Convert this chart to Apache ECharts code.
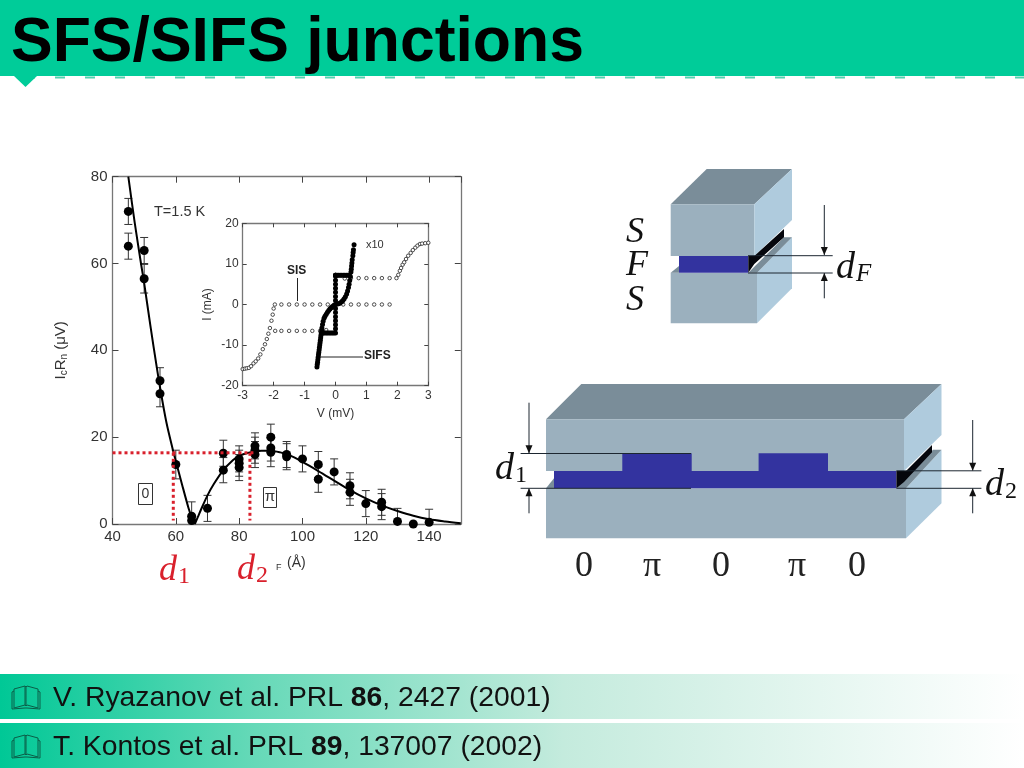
<!DOCTYPE html>
<html><head><meta charset="utf-8">
<style>html,body{margin:0;padding:0;background:#fff}#c{width:1024px;height:768px}</style>
<script src="https://cdn.jsdelivr.net/npm/echarts@6/dist/echarts.min.js"></script>
</head><body><div id="c"></div>
<script>
// ---- main panel data: thickness (Å), IcRn (µV), error (µV)
var pointX   = [45,45,50,50,55,55,60,65,65,70,75,75,80,80,80,85,85,85,90,90,90,95,95,100,105,105,110,115,115,120,125,125,130,135,140];
var pointY   = [72,64,63,56.5,33,30,13.7,1.8,0.8,3.6,16.3,12.4,15,14,13,18,17,16,20,17.5,16.5,16,15.5,15,13.7,10.3,12,8.8,7.3,4.7,5,4,0.6,0,0.4];
var pointErr = [3,3,3,3.3,3,3,3.3,3.3,0,3,3,2.9,3,3,3,3,3,3,3,3,3.3,3,3,3,3,3,3,3,3,3,3,3,3,0,3];
var curve0X = [45,47,49,50,52,54,55,57,59,60,62,64,65,66];
var curve0Y = [80,69.5,60,55.5,45.5,36,31.5,23.5,17.3,14.5,9,3.7,1.6,0];
var curve1X = [66,67,68,70,72,75,78,80,83,87,90,93,96,100,105,110,115,120,125,130,135,140,145,150];
var curve1Y = [0,1.7,3.4,6.6,9.2,12.4,14.7,15.7,16.4,16.9,16.9,16.5,15.8,14.3,12.2,10,7.8,5.9,4.3,3,1.9,1.1,0.6,0.2];
var dottedH = [[40,16.4],[84.5,16.4]];
var dottedA = [[59.2,16.4],[59.2,0.8]];
var dottedB = [[83.4,16.4],[83.4,0.8]];
// ---- inset data: V (mV), I (mA)
var sisV = [-3,-2.93,-2.87,-2.8,-2.73,-2.65,-2.58,-2.5,-2.43,-2.35,-2.28,-2.22,-2.17,-2.12,-2.07,-2.03,-2,-1.96,-1.75,-1.5,-1.25,-1,-0.75,-0.5,-0.25,0,0.25,0.5,0.75,1,1.25,1.5,1.75,-1.95,-1.75,-1.5,-1.25,-1,-0.75,-0.5,-0.3,0.3,0.5,0.75,1,1.25,1.5,1.75,1.97,2.03,2.08,2.12,2.17,2.22,2.28,2.35,2.43,2.5,2.58,2.65,2.73,2.8,2.9,3];
var sisI = [-15.9,-15.8,-15.7,-15.6,-15.2,-14.5,-14,-13.3,-12.3,-11,-9.8,-8.5,-7.2,-5.8,-4,-2.5,-1,0,0,0,0,0,0,0,0,0,0,0,0,0,0,0,0,-6.5,-6.5,-6.5,-6.5,-6.5,-6.5,-6.5,-6.3,6.4,6.5,6.5,6.5,6.5,6.5,6.5,6.5,7.3,8.3,9,9.8,10.4,11.2,12,12.7,13.4,14,14.5,14.9,15,15.1,15.2];
var sifsV = [-0.6,-0.59,-0.58,-0.57,-0.56,-0.55,-0.54,-0.53,-0.52,-0.51,-0.5,-0.49,-0.48,-0.47,-0.46,-0.45,-0.44,-0.42,-0.4,-0.37,-0.34,-0.3,-0.26,-0.22,-0.18,-0.14,-0.1,-0.05,0,0.05,0.1,0.15,0.2,0.24,0.28,0.32,0.36,0.39,0.42,0.44,0.46,0.48,0.5,0.51,0.52,0.53,0.54,0.56,0.57,0.58,0.6,0,0,0,0,0,0,0,0,0,0,0,0,0,0,0,0,0,0.05,0.1,0.15,0.2,0.25,0.3,-0.05,-0.1,-0.15,-0.2,-0.25,-0.3,-0.35,-0.4,0.35,0.4,0.45];
var sifsI = [-15.4,-14.8,-14.2,-13.6,-13,-12.4,-11.8,-11.2,-10.6,-10,-9.4,-8.8,-8.2,-7.6,-7,-6.4,-5.8,-4.9,-4.1,-3.4,-2.9,-2.4,-1.9,-1.5,-1.1,-0.8,-0.5,-0.2,0,0.1,0.2,0.4,0.7,1,1.4,1.9,2.6,3.3,4.2,5,5.9,6.9,8,8.7,9.5,10.2,11,12,12.8,13.5,14.7,-7,-6,-5,-4,-3,-2,-1,1,2,3,4,5,6,7,7.2,7.2,7.2,7.2,7.2,7.2,7.2,7.2,7.2,-7,-7,-7,-7,-7,-7,-7,-7,7.2,7.2,7.2];

function zip(a,b){return a.map(function(v,i){return [v,b[i]];});}
function zip3(a,b,c){return a.map(function(v,i){return [v,b[i],c[i]];});}

var HEAD='#00CC99', INK='#333', AX='#777';
var SANS='"Liberation Sans",Arial,sans-serif', SERIF='"Liberation Serif",serif';
var TOPF='#7A8D99', FRONT='#9BB0BE', SIDE='#AFCBDD', BLUE='#33339F', DARK='#1c2630';

function errItem(params, api){
  var x=api.value(0), y=api.value(1), e=api.value(2);
  if(!e) return {type:'group',children:[]};
  var lo=api.coord([x,Math.max(0,y-e)]), hi=api.coord([x,y+e]);
  var st={stroke:'#333',lineWidth:1,fill:null};
  var kids=[
    {type:'line',shape:{x1:hi[0],y1:hi[1],x2:lo[0],y2:lo[1]},style:st},
    {type:'line',shape:{x1:hi[0]-4,y1:hi[1],x2:hi[0]+4,y2:hi[1]},style:st}];
  if(y-e>0) kids.push({type:'line',shape:{x1:lo[0]-4,y1:lo[1],x2:lo[0]+4,y2:lo[1]},style:st});
  return {type:'group',children:kids};
}
function axisBase(extra){
  var o={type:'value',axisLine:{show:true,onZero:false,lineStyle:{color:AX,width:1.3}},
    axisTick:{show:true,inside:true,length:6,lineStyle:{color:'#444',width:1}},splitLine:{show:false},
    axisLabel:{show:true,color:INK,fontFamily:SANS,fontSize:15,margin:5,showMaxLabel:true}};
  for(var k in extra) o[k]=extra[k];
  return o;
}
function poly(pts,fill,z){return {type:'polygon',z:z||1,silent:true,shape:{points:pts},style:{fill:fill}};}
function seg(x1,y1,x2,y2,w,col,z){return {type:'line',z:z||5,silent:true,shape:{x1:x1,y1:y1,x2:x2,y2:y2},style:{stroke:col||DARK,lineWidth:w||1}};}
function txt(x,y,t,opt){
  opt=opt||{};
  var st={text:t,x:x,y:y,fill:opt.fill||'#111',font:(opt.style||'')+' '+(opt.weight||'')+' '+(opt.size||14)+'px '+(opt.family||SANS),
    align:opt.align||'left',verticalAlign:'middle'};
  if(opt.rich) st.rich=opt.rich;
  return {type:'text',z:opt.z||10,silent:true,rotation:opt.rotation||0,style:st};
}
function headDown(x,y){return poly([[x-3.5,y-8],[x+3.5,y-8],[x,y]],'#111',6);}
function headUp(x,y){return poly([[x-3.5,y+8],[x+3.5,y+8],[x,y]],'#111',6);}
function pline(pts,x0,y0,col){return {type:'polyline',z:6,silent:true,x:x0,y:y0,shape:{points:pts},style:{fill:null,stroke:col,lineWidth:1}};}

// slide chrome
var g=[];
g.push({type:'rect',z:0,silent:true,shape:{x:0,y:0,width:1024,height:76},style:{fill:HEAD}});
g.push(poly([[14,76],[37,76],[25.5,87]],HEAD,0));
g.push({type:'line',z:0,silent:true,shape:{x1:25,y1:77.5,x2:1024,y2:77.5},style:{stroke:'#4fd3b0',lineWidth:2,lineDash:[10,20]}});
g.push(txt(11,44,'SFS/SIFS junctions',{size:62.5,weight:'bold',fill:'#000'}));
var fade={type:'linear',x:0,y:0,x2:1,y2:0,colorStops:[{offset:0,color:'#00C896'},{offset:0.25,color:'#66D9B8'},{offset:0.55,color:'#C4EBDD'},{offset:1,color:'#ffffff'}]};
g.push({type:'rect',z:0,silent:true,shape:{x:0,y:674,width:1024,height:45},style:{fill:fade}});
g.push({type:'rect',z:0,silent:true,shape:{x:0,y:723,width:1024,height:45},style:{fill:fade}});
[685,734].forEach(function(y){
  var c='#0B5E48';
  g.push(pline([[14,20],[3,23],[3,4],[14,1],[14,20]],11,y,c));
  g.push(pline([[14,1],[15,2],[16,1],[27,4],[27,23],[16,20],[15,21],[14,20]],11,y,c));
  g.push(pline([[15,2],[15,21]],11,y,c));
  g.push(pline([[3,6],[1,7],[1,24],[14,23],[16,23],[29,24],[29,7],[27,6]],11,y,c));
});
var cite={b:{fontFamily:SANS,fontWeight:'bold',fontSize:28.3,fill:'#111'},n:{fontFamily:SANS,fontSize:28.3,fill:'#111'}};
g.push(txt(53,698,'{n|V. Ryazanov et al. PRL }{b|86}{n|, 2427 (2001)}',{size:28.3,rich:cite}));
g.push(txt(53,747,'{n|T. Kontos et al. PRL }{b|89}{n|, 137007 (2002)}',{size:28.3,rich:cite}));

// left chart annotations
g.push(txt(154,212,'T=1.5 K',{size:14.5,fill:INK}));
g.push({type:'rect',z:8,silent:true,shape:{x:138.5,y:483.5,width:14,height:21},style:{fill:'#fff',stroke:'#333',lineWidth:1}});
g.push(txt(145.5,494,'0',{size:14,align:'center',fill:INK}));
g.push({type:'rect',z:8,silent:true,shape:{x:263.5,y:487.5,width:13,height:20},style:{fill:'#fff',stroke:'#333',lineWidth:1}});
g.push(txt(270,497,'π',{size:15,align:'center',fill:INK}));
var redRich={d:{fontFamily:SERIF,fontStyle:'italic',fontSize:36,fill:'#D9202C'},s:{fontFamily:SERIF,fontSize:24,fill:'#D9202C',verticalAlign:'bottom',padding:[10,0,0,1]}};
g.push(txt(159,571,'{d|d}{s|1}',{size:36,rich:redRich,fill:'#D9202C'}));
g.push(txt(237,570,'{d|d}{s|2}',{size:36,rich:redRich,fill:'#D9202C'}));
g.push(txt(276,568,'F',{size:9,fill:INK}));
g.push(txt(287,563,'(Å)',{size:14,fill:INK}));
// inset annotations
g.push(txt(366,245,'x10',{size:11,fill:INK}));
g.push(txt(287,271,'SIS',{size:12,weight:'bold',fill:'#222'}));
g.push(seg(297.5,278,297.5,301,1,'#222'));
g.push(txt(364,356,'SIFS',{size:12,weight:'bold',fill:'#222'}));
g.push(seg(320,357,363,357,1,'#222'));

// small SFS diagram
g.push(poly([[670.7,204.3],[706.7,169],[792,169],[754.3,204.3]],TOPF));
g.push(poly([[670.7,204.3],[754.3,204.3],[754.3,256],[670.7,256]],FRONT));
g.push(poly([[754.3,204.3],[792,169],[792,220],[754.3,256]],SIDE));
g.push(poly([[670.7,272.7],[757,272.7],[757,323.3],[670.7,323.3]],FRONT));
g.push(poly([[757,272.7],[792,237.3],[792,288.3],[757,323.3]],SIDE));
g.push(poly([[748.3,272.7],[784,237.3],[792,237.3],[757,272.7]],TOPF,2));
g.push(poly([[670.7,272.7],[679,266],[679,272.7]],TOPF,2));
g.push(poly([[679,256],[748.3,256],[748.3,272.7],[679,272.7]],BLUE,3));
g.push(poly([[748.3,256],[754.3,256],[784,229],[784,237.3],[754.3,264],[748.3,272.7]],'#05060c',3));
g.push(seg(748,255.7,832.7,255.7),seg(748,273,832.7,273));
g.push(seg(824.3,205,824.3,255),headDown(824.3,255));
g.push(seg(824.3,298.3,824.3,273),headUp(824.3,273));
var mathS={size:36,family:SERIF,style:'italic',fill:'#111'};
g.push(txt(626,233,'S',mathS),txt(626,266,'F',mathS),txt(626,301,'S',mathS));
var dRich={d:{fontFamily:SERIF,fontStyle:'italic',fontSize:38,fill:'#111'},s:{fontFamily:SERIF,fontSize:24,fill:'#111',verticalAlign:'bottom',padding:[10,0,0,1]},i:{fontFamily:SERIF,fontStyle:'italic',fontSize:25,fill:'#111',verticalAlign:'bottom',padding:[10,0,0,1]}};
g.push(txt(836,268,'{d|d}{i|F}',{size:38,rich:dRich}));

// large SIFS diagram
g.push(poly([[546,419.3],[581.3,384],[941.5,384],[904,419.3]],TOPF));
g.push(poly([[546,419.3],[904,419.3],[904,471],[546,471]],FRONT));
g.push(poly([[904,419.3],[941.5,384],[941.5,435],[904,471]],SIDE));
g.push(poly([[546,488.3],[906,488.3],[906,538.3],[546,538.3]],FRONT));
g.push(poly([[906,488.3],[941.5,449.7],[941.5,503.3],[906,538.3]],SIDE));
g.push(poly([[896.4,488.3],[933,449.7],[941.5,449.7],[906,488.3]],TOPF,2));
g.push(poly([[546,488.3],[554,478.3],[554,488.3]],TOPF,2));
g.push(poly([[554,471],[896.4,471],[896.4,488.3],[554,488.3]],BLUE,3));
g.push(poly([[622.3,453.3],[691.7,453.3],[691.7,471],[622.3,471]],BLUE,3));
g.push(poly([[758.6,453.3],[828,453.3],[828,471],[758.6,471]],BLUE,3));
g.push(poly([[896.4,471],[906,471],[932,445],[932,452.3],[904,482],[896.4,488.3]],'#05060c',3));
g.push(seg(520.6,453.5,691,453.5),seg(520.6,488.3,691,488.3));
g.push(seg(529,402.7,529,453),headDown(529,453.3));
g.push(seg(529,513.3,529,488.5),headUp(529,488.3));
g.push(seg(896.4,470.8,981.4,470.8),seg(896.4,488.3,981.4,488.3));
g.push(seg(972.7,420,972.7,470.5),headDown(972.7,470.7));
g.push(seg(972.7,513.3,972.7,488.5),headUp(972.7,488.3));
g.push(txt(495,469,'{d|d}{s|1}',{size:38,rich:dRich}));
g.push(txt(985,485,'{d|d}{s|2}',{size:38,rich:dRich}));
var labs=[['0',584],['π',652],['0',721],['π',797],['0',857]];
labs.forEach(function(l){g.push(txt(l[1],567,l[0],{size:36,family:SERIF,align:'center',fill:'#222'}));});

var option={
  animation:false,backgroundColor:'#fff',
  grid:[
    {left:112.5,top:176.7,width:348.3,height:347.3},
    {left:242.7,top:223.3,width:185.6,height:162.4,backgroundColor:'#fff'}
  ],
  xAxis:[
    axisBase({gridIndex:0,min:40,max:150,interval:20,position:'bottom',axisLabel:{color:INK,fontFamily:SANS,fontSize:15,margin:5,showMaxLabel:false}}),
    axisBase({gridIndex:0,min:40,max:150,interval:20,position:'top',axisLabel:{show:false}}),
    axisBase({gridIndex:1,min:-3,max:3,interval:1,position:'bottom',name:'V (mV)',nameLocation:'middle',nameGap:22,nameTextStyle:{color:INK,fontFamily:SANS,fontSize:12},
      axisLabel:{color:INK,fontFamily:SANS,fontSize:12,margin:4},axisTick:{inside:true,length:4,lineStyle:{color:'#444'}}}),
    axisBase({gridIndex:1,min:-3,max:3,interval:1,position:'top',axisLabel:{show:false},axisTick:{inside:true,length:4,lineStyle:{color:'#444'}}})
  ],
  yAxis:[
    axisBase({gridIndex:0,min:0,max:80,interval:20,position:'left',
      name:'{n|I}{s|c}{n|R}{s|n}{n| (μV)}',nameLocation:'middle',nameGap:43,nameRotate:90,
      nameTextStyle:{rich:{n:{fontFamily:SANS,fontSize:15,color:INK},s:{fontFamily:SANS,fontSize:10,color:INK,verticalAlign:'bottom',padding:[7,0,0,0]}}}}),
    axisBase({gridIndex:0,min:0,max:80,interval:20,position:'right',axisLabel:{show:false}}),
    axisBase({gridIndex:1,min:-20,max:20,interval:10,position:'left',name:'I (mA)',nameLocation:'middle',nameGap:29,nameRotate:90,nameTextStyle:{color:INK,fontFamily:SANS,fontSize:12},
      axisLabel:{color:INK,fontFamily:SANS,fontSize:12,margin:4},axisTick:{inside:true,length:4,lineStyle:{color:'#444'}}}),
    axisBase({gridIndex:1,min:-20,max:20,interval:10,position:'right',axisLabel:{show:false},axisTick:{inside:true,length:4,lineStyle:{color:'#444'}}})
  ],
  series:[
    {type:'custom',xAxisIndex:0,yAxisIndex:0,renderItem:errItem,clip:false,silent:true,z:2,data:zip3(pointX,pointY,pointErr),encode:{x:0,y:1}},
    {type:'line',xAxisIndex:0,yAxisIndex:0,data:zip(curve0X,curve0Y),smooth:0.3,symbol:'none',lineStyle:{color:'#000',width:2},z:3},
    {type:'line',xAxisIndex:0,yAxisIndex:0,data:zip(curve1X,curve1Y),smooth:0.3,symbol:'none',lineStyle:{color:'#000',width:2},z:3},
    {type:'scatter',xAxisIndex:0,yAxisIndex:0,data:zip(pointX,pointY),symbol:'circle',symbolSize:9,itemStyle:{color:'#000',opacity:1},clip:false,z:4},
    {type:'line',xAxisIndex:0,yAxisIndex:0,data:dottedH,symbol:'none',lineStyle:{color:'#D9202C',width:3,type:[3,3]},z:5},
    {type:'line',xAxisIndex:0,yAxisIndex:0,data:dottedA,symbol:'none',lineStyle:{color:'#D9202C',width:3,type:[3,3]},z:5},
    {type:'line',xAxisIndex:0,yAxisIndex:0,data:dottedB,symbol:'none',lineStyle:{color:'#D9202C',width:3,type:[3,3]},z:5},
    {type:'scatter',xAxisIndex:2,yAxisIndex:2,data:zip(sisV,sisI),symbol:'circle',symbolSize:3.5,itemStyle:{color:'#fff',borderColor:'#222',borderWidth:0.8,opacity:1},clip:false,z:3},
    {type:'scatter',xAxisIndex:2,yAxisIndex:2,data:zip(sifsV,sifsI),symbol:'circle',symbolSize:5,itemStyle:{color:'#000',opacity:1},clip:false,z:4}
  ],
  graphic:{elements:g}
};
var chart=echarts.init(document.getElementById('c'),null,{renderer:'canvas',width:1024,height:768});
chart.setOption(option);
</script></body></html>
